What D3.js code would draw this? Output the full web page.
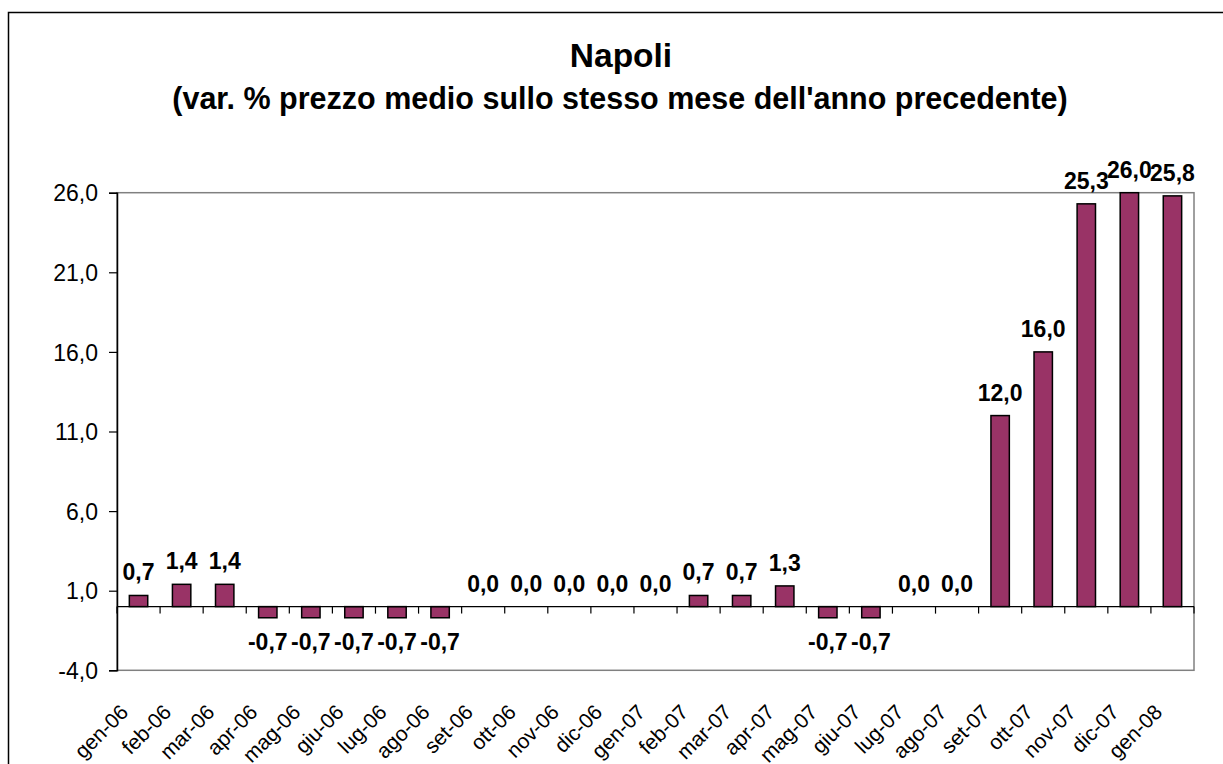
<!DOCTYPE html>
<meta charset="utf-8">
<script src="https://d3js.org/d3.v7.min.js"></script>
<style>
  body { margin: 0; background: #fff; }
  svg text { font-family: "Liberation Sans", Arial, sans-serif; fill: #000; }
</style>
<body>
<div id="chart"></div>
<script>

// months on the category axis
var months = ["gen-06", "feb-06", "mar-06", "apr-06", "mag-06", "giu-06", "lug-06", "ago-06",
              "set-06", "ott-06", "nov-06", "dic-06", "gen-07", "feb-07", "mar-07", "apr-07",
              "mag-07", "giu-07", "lug-07", "ago-07", "set-07", "ott-07", "nov-07", "dic-07", "gen-08"];

// var. % prezzo medio
var values = [0.7, 1.4, 1.4, -0.7, -0.7, -0.7, -0.7, -0.7,
              0.0, 0.0, 0.0, 0.0, 0.0, 0.7, 0.7, 1.3,
              -0.7, -0.7, 0.0, 0.0, 12.0, 16.0, 25.3, 26.0, 25.8];

var yTicks = [-4, 1, 6, 11, 16, 21, 26];

var title = "Napoli";
var subtitle = "(var. % prezzo medio sullo stesso mese dell'anno precedente)";

var W = 1223, H = 764;
var plot = {left: 117, top: 192.7, right: 1194, bottom: 670.3};

function fmt(v) { return v.toFixed(1).replace(".", ","); }

var svg = d3.select("#chart").append("svg")
    .attr("width", W)
    .attr("height", H);

// outer chart frame (runs off the right and bottom edges)
svg.append("rect")
    .attr("x", 8.5).attr("y", 12.5)
    .attr("width", 1240).attr("height", 800)
    .attr("fill", "#fff")
    .attr("stroke", "#000")
    .attr("stroke-width", 1.5);

// titles
svg.append("text")
    .attr("x", 621).attr("y", 67)
    .attr("text-anchor", "middle")
    .style("font-size", "33.5px").style("font-weight", "bold")
    .text(title);

svg.append("text")
    .attr("x", 620).attr("y", 108.5)
    .attr("text-anchor", "middle")
    .style("font-size", "30.5px").style("font-weight", "bold")
    .text(subtitle);

// scales
var x = d3.scaleBand()
    .domain(months)
    .range([plot.left, plot.right])
    .paddingInner(0.573)
    .paddingOuter(0.2865);

var y = d3.scaleLinear()
    .domain([-4, 26])
    .range([plot.bottom, plot.top]);

// plot area border
svg.append("rect")
    .attr("x", plot.left).attr("y", plot.top)
    .attr("width", plot.right - plot.left)
    .attr("height", plot.bottom - plot.top)
    .attr("fill", "none")
    .attr("stroke", "#808080")
    .attr("stroke-width", 1.5);

// value axis
var yAxis = d3.axisLeft(y)
    .tickValues(yTicks)
    .tickSize(8)
    .tickPadding(11)
    .tickFormat(fmt);

var gy = svg.append("g")
    .attr("transform", "translate(" + plot.left + ",0)")
    .call(yAxis);
gy.select(".domain").attr("stroke", "#000").attr("stroke-width", 1.5);
gy.selectAll(".tick line").attr("stroke", "#000").attr("stroke-width", 1.2);
gy.selectAll(".tick text")
    .attr("dy", "0.36em")
    .style("font-size", "23px");

// bars
svg.append("g")
  .selectAll("rect")
  .data(values)
  .enter()
  .append("rect")
    .attr("x", function(d, i) { return x(months[i]); })
    .attr("y", function(d) { return y(Math.max(d, 0)); })
    .attr("width", x.bandwidth())
    .attr("height", function(d) { return Math.abs(y(d) - y(0)); })
    .attr("fill", "#993366")
    .attr("stroke", "#000")
    .attr("stroke-width", 1.5);

// category axis at zero
var step = x.step();
var x0 = plot.left;
svg.append("line")
    .attr("x1", plot.left).attr("x2", plot.right)
    .attr("y1", y(0)).attr("y2", y(0))
    .attr("stroke", "#000")
    .attr("stroke-width", 1.2);

svg.append("g")
  .selectAll("line")
  .data(d3.range(months.length + 1))
  .enter()
  .append("line")
    .attr("x1", function(i) { return x0 + i * step; })
    .attr("x2", function(i) { return x0 + i * step; })
    .attr("y1", y(0))
    .attr("y2", y(0) + 7)
    .attr("stroke", "#000")
    .attr("stroke-width", 1.2);

// category labels, rotated
svg.append("g")
  .selectAll("text")
  .data(months)
  .enter()
  .append("text")
    .attr("transform", function(d) {
      return "translate(" + (x(d) + x.bandwidth() / 2 - 9) + ",713.5) rotate(-45)";
    })
    .attr("text-anchor", "end")
    .style("font-size", "21px")
    .text(function(d) { return d; });

// data labels
svg.append("g")
  .selectAll("text")
  .data(values)
  .enter()
  .append("text")
    .attr("x", function(d, i) { return x(months[i]) + x.bandwidth() / 2; })
    .attr("y", function(d) { return d < 0 ? y(d) + 32 : y(d) - 15; })
    .attr("text-anchor", "middle")
    .style("font-size", "23px")
    .style("font-weight", "bold")
    .text(fmt);

</script>
</body>
